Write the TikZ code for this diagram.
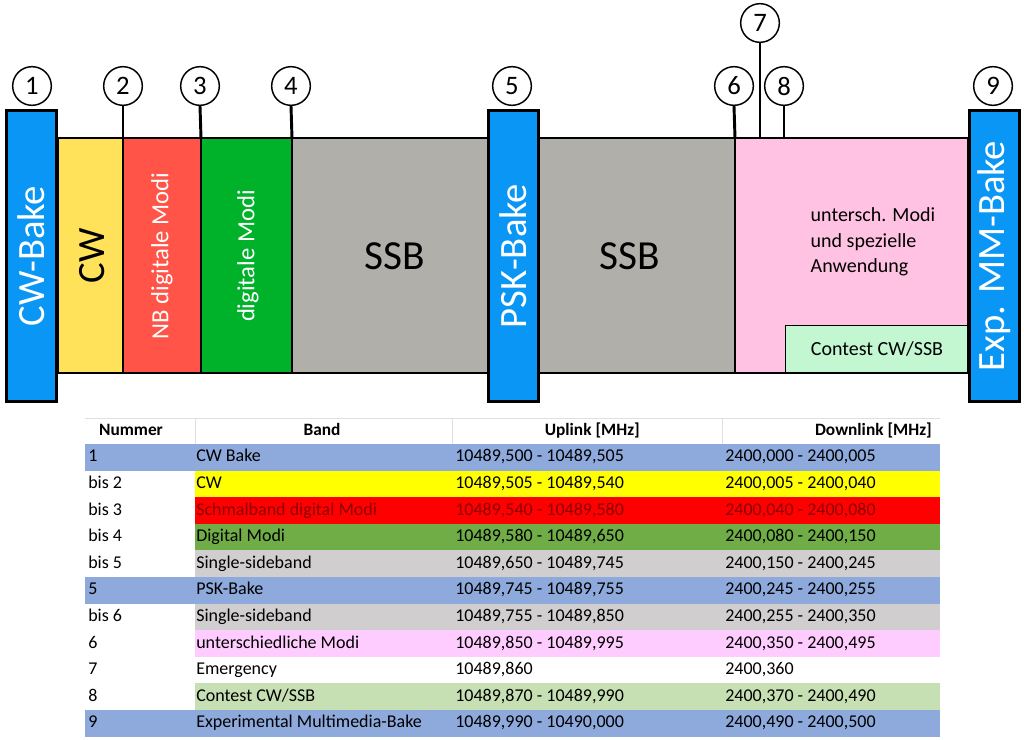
\documentclass[tikz,border=0pt]{standalone}
\usepackage{fontspec}
\setmainfont{Carlito}
\definecolor{bblue}{HTML}{0A96F5}
\definecolor{byel}{HTML}{FFE15A}
\definecolor{bred}{HTML}{FF5447}
\definecolor{bgreen}{HTML}{00B22A}
\definecolor{bgray}{HTML}{B0AFAA}
\definecolor{bpink}{HTML}{FFC2E2}
\definecolor{blgreen}{HTML}{C2F7D2}
\definecolor{tblue}{HTML}{8EA9DB}
\definecolor{tyel}{HTML}{FFFF00}
\definecolor{tred}{HTML}{FF0000}
\definecolor{tgreen}{HTML}{70AD47}
\definecolor{tgray}{HTML}{D0CECE}
\definecolor{tpink}{HTML}{FFCCFF}
\definecolor{tlgreen}{HTML}{C6E0B4}
\definecolor{tdred}{HTML}{8B0000}
\newcommand\trow[7]{%
  \node[cell] (r#1a) at (88,{457.3+#1*26.6}) {#2};
  \node[cell,text=#6] (r#1b) at (196,{457.3+#1*26.6}) {#3};
  \node[cell,text=#7] (r#1c) at (455,{457.3+#1*26.6}) {#4};
  \node[cell,text=#7] (r#1d) at (725,{457.3+#1*26.6}) {#5};}
\begin{document}
\begin{tikzpicture}[x=0.75pt,y=-0.75pt,
  seg/.style={draw=black,line width=2.2pt},
  num/.style={circle,draw=black,line width=1.1pt,minimum size=29pt,inner sep=0pt,font=\fontsize{20}{20}\selectfont},
  tick/.style={line width=2.2pt},
  cell/.style={anchor=west,font=\fontsize{13.5}{13.5}\selectfont,inner sep=0pt,text height=9.5pt,text depth=2.5pt},
  hcell/.style={font=\fontsize{13}{13}\selectfont\bfseries,inner sep=0pt,text height=9.5pt,text depth=2.5pt}]
\useasboundingbox (0,0) rectangle (1024,739);
% band
\fill[byel] (58,138) rectangle (123,373);
\fill[bred] (123,138) rectangle (201,373);
\fill[bgreen] (201,138) rectangle (292,373);
\fill[bgray] (292,138) rectangle (487,373);
\fill[bgray] (540,138) rectangle (735,373);
\fill[bpink] (735,138) rectangle (968,373);
\draw[tick] (123,138)--(123,373) (201,138)--(201,373) (292,138)--(292,373) (735,138)--(735,373);
\node[draw=black,line width=1pt,fill=blgreen,anchor=south west,minimum width=137pt,minimum height=35pt,inner sep=0pt,font=\fontsize{15}{15}\selectfont] (cont) at (785,373) {Contest CW/SSB};
\draw[seg] (58,138) rectangle (968,373);
% beacons
\node[seg,fill=bblue,minimum width=38pt,minimum height=218pt,inner sep=0pt] (b1) at (31.5,256) {};
\node[rotate=90,text=white,font=\fontsize{29}{29}\selectfont] at (b1) {CW-Bake};
\node[seg,fill=bblue,minimum width=38pt,minimum height=218pt,inner sep=0pt] (b5) at (513.5,256) {};
\node[rotate=90,text=white,font=\fontsize{29}{29}\selectfont] at (b5) {PSK-Bake};
\node[seg,fill=bblue,minimum width=38pt,minimum height=218pt,inner sep=0pt] (b9) at (994.5,256) {};
\node[rotate=90,text=white,font=\fontsize{29}{29}\selectfont] at (b9) {Exp. MM-Bake};
% labels
\node[rotate=90,font=\fontsize{29}{29}\selectfont] at (92,256) {CW};
\node[rotate=90,text=white,font=\fontsize{18.5}{18.5}\selectfont] at (162,256) {NB digitale Modi};
\node[rotate=90,text=white,font=\fontsize{18.5}{18.5}\selectfont] at (248,256) {digitale Modi};
\node[font=\fontsize{31}{31}\selectfont] at (395,256) {SSB};
\node[font=\fontsize{31}{31}\selectfont] at (630,256) {SSB};
\node[align=left,anchor=west,font=\fontsize{15}{19}\selectfont] at (806,242) {untersch. Modi\\und spezielle\\Anwendung};
% circles
\node[num] (n1) at (32,86) {1};
\node[num] (n2) at (123,86) {2};
\node[num] (n3) at (200,86) {3};
\node[num] (n4) at (291,86) {4};
\node[num] (n5) at (512,86) {5};
\node[num] (n6) at (734,86) {6};
\node[num] (n7) at (760,23) {7};
\node[num] (n8) at (784,86) {8};
\node[num] (n9) at (993,86) {9};
\coordinate (t2) at (123,138); \coordinate (t3) at (201,138); \coordinate (t4) at (292,138);
\coordinate (t6) at (735,138); \coordinate (t7) at (760,138); \coordinate (t8) at (784,138);
\draw[tick] (n2)--(t2); \draw[tick] (n3.south)--(t3); \draw[tick] (n4.south)--(t4);
\draw[tick] (n6.south)--(t6); \draw[tick] (n7)--(t7); \draw[tick] (n8)--(t8);
% table
\foreach \i/\cA/\cB in {0/tblue/tblue,1/white/tyel,2/white/tred,3/white/tgreen,4/white/tgray,5/tblue/tblue,6/white/tgray,7/white/tpink,8/white/white,9/white/tlgreen,10/tblue/tblue}{
  \fill[\cA] (85,{444+\i*26.6}) rectangle (195,{444+(\i+1)*26.6});
  \fill[\cB] (195,{444+\i*26.6}) rectangle (940,{444+(\i+1)*26.6});
}
\draw[gray!25,line width=0.4pt] (85,418)--(940,418);
\foreach \x in {195,452,722} \draw[gray!25,line width=0.4pt] (\x,418)--(\x,444);
\node[hcell] (h1) at (131,431) {Nummer};
\node[hcell] (h2) at (322,431) {Band};
\node[hcell,anchor=east] (h3) at (640,431) {Uplink [MHz]};
\node[hcell,anchor=east] (h4) at (932,431) {Downlink [MHz]};
\trow{0}{1}{CW Bake}{10489,500 - 10489,505}{2400,000 - 2400,005}{black}{black}
\trow{1}{bis 2}{CW}{10489,505 - 10489,540}{2400,005 - 2400,040}{black}{black}
\trow{2}{bis 3}{Schmalband digital Modi}{10489,540 - 10489,580}{2400,040 - 2400,080}{tdred}{tdred}
\trow{3}{bis 4}{Digital Modi}{10489,580 - 10489,650}{2400,080 - 2400,150}{black}{black}
\trow{4}{bis 5}{Single-sideband}{10489,650 - 10489,745}{2400,150 - 2400,245}{black}{black}
\trow{5}{5}{PSK-Bake}{10489,745 - 10489,755}{2400,245 - 2400,255}{black}{black}
\trow{6}{bis 6}{Single-sideband}{10489,755 - 10489,850}{2400,255 - 2400,350}{black}{black}
\trow{7}{6}{unterschiedliche Modi}{10489,850 - 10489,995}{2400,350 - 2400,495}{black}{black}
\trow{8}{7}{Emergency}{10489,860}{2400,360}{black}{black}
\trow{9}{8}{Contest CW/SSB}{10489,870 - 10489,990}{2400,370 - 2400,490}{black}{black}
\trow{10}{9}{Experimental Multimedia-Bake}{10489,990 - 10490,000}{2400,490 - 2400,500}{black}{black}
\end{tikzpicture}
\end{document}
